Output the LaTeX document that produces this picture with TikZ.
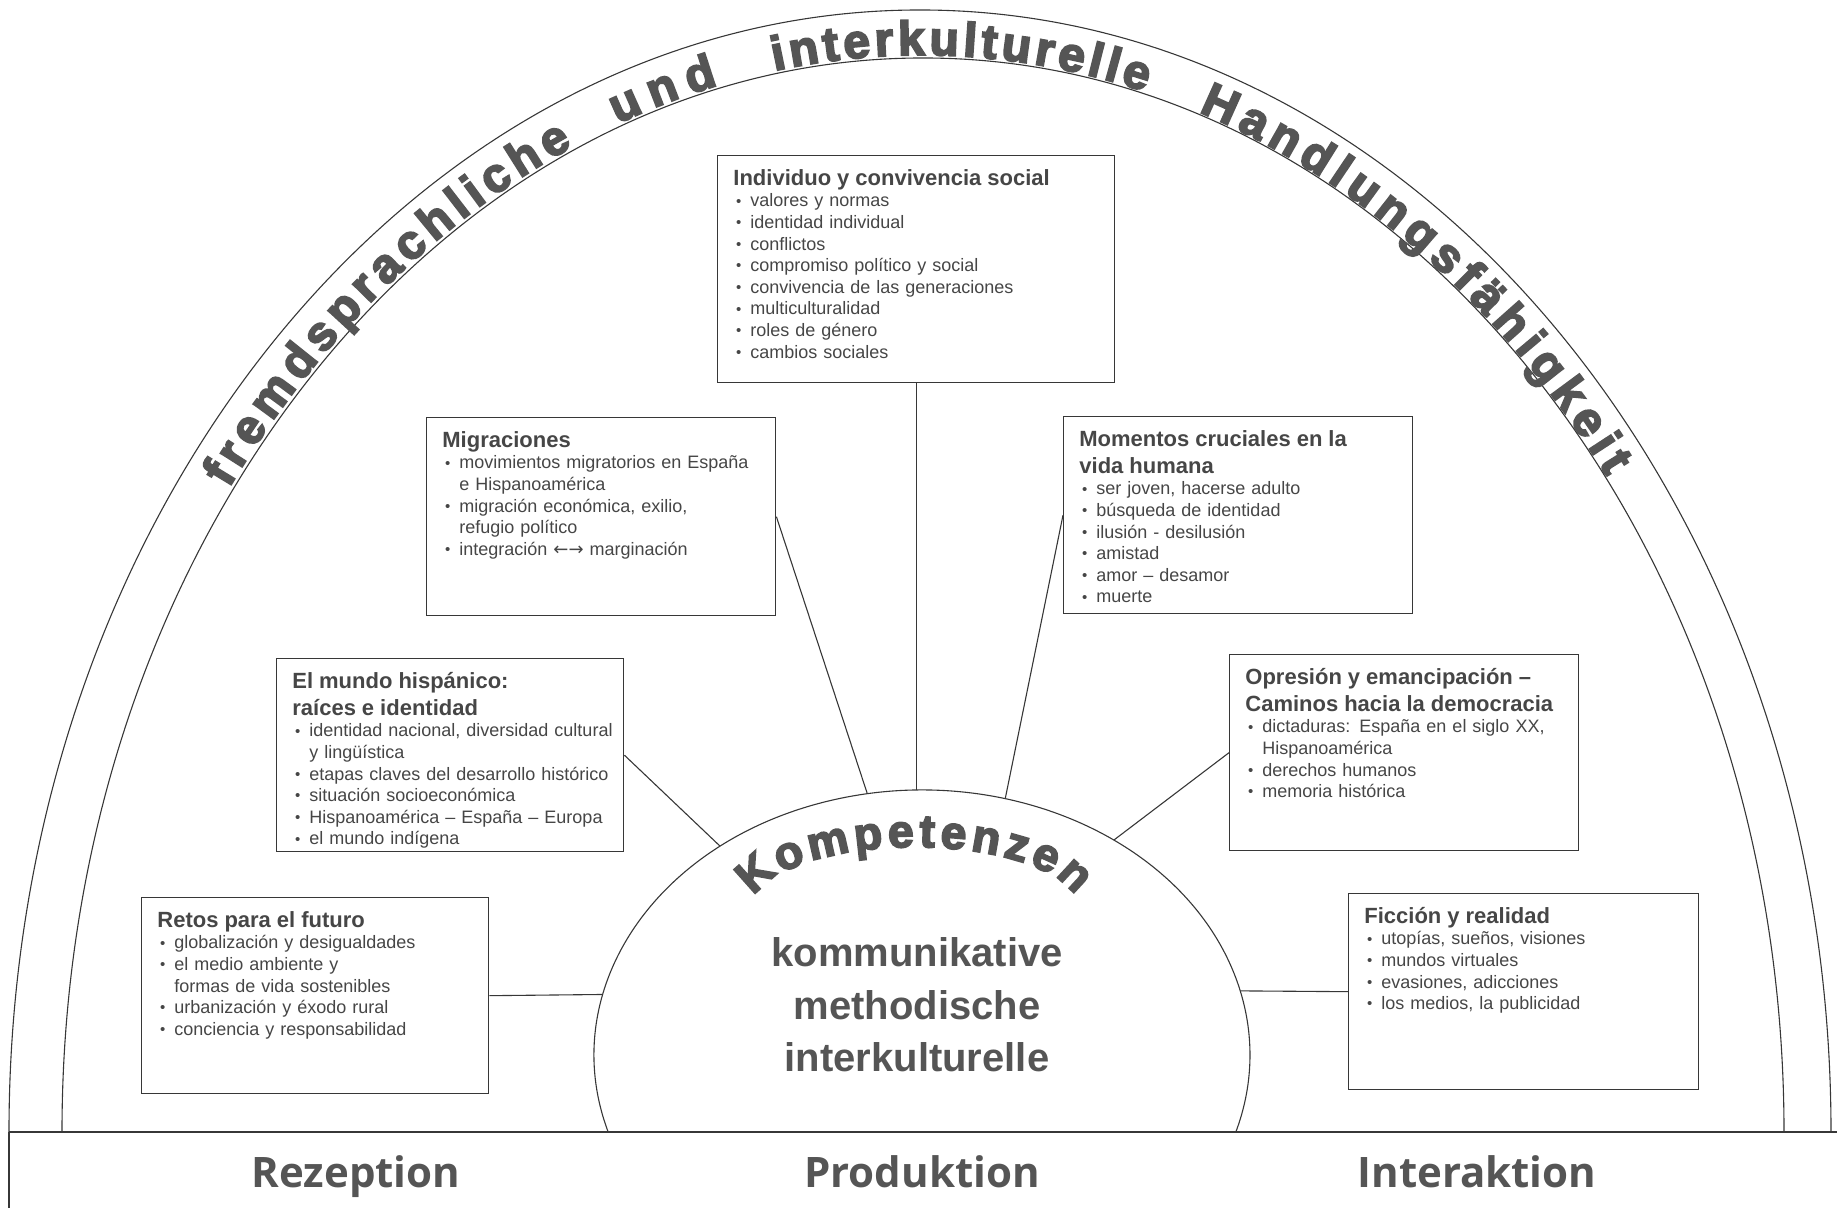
\documentclass[tikz,border=0pt]{standalone}
\usepackage{fontspec}
\setmainfont{Liberation Sans}
\newfontfamily\opensans{Open Sans}
\newfontfamily\dejavu{DejaVu Sans}
\newfontfamily\heavyfont{Liberation Sans Bold}[FakeBold=4]
\usetikzlibrary{decorations.text}
\definecolor{ink}{RGB}{55,55,55}
\definecolor{txt}{RGB}{70,70,70}
\definecolor{big}{RGB}{85,85,85}
\newcommand\bl{\par\hangindent=8.5pt\hangafter=1\noindent\makebox[8.5pt][l]{\hspace{1.4pt}\raisebox{0.4pt}{\fontsize{7.5}{7.5}\selectfont •}}}
\newcommand\ttl[1]{{\fontsize{11}{13.5}\selectfont\bfseries\rule{0pt}{9pt}#1\par}}
\newcommand\bandtxt{\color{big}\heavyfont\fontsize{24}{24}\selectfont}
\newcommand\kompfont{\color{big}\heavyfont\fontsize{23}{23}\selectfont}
\tikzset{
  frame/.style={draw=ink, line width=0.55pt},
  conn/.style={draw=ink, line width=0.55pt},
  topic/.style={draw=ink, line width=0.7pt, anchor=north west, inner sep=0pt, fill=white},
  content/.style={anchor=north west, inner sep=0pt, text width=#1, align=left,
    font=\fontsize{9}{10.8}\selectfont, text=txt},
  kline/.style={anchor=base, inner sep=0pt, text=big, font=\fontsize{20}{20}\selectfont\bfseries},
  skill/.style={anchor=base, inner sep=0pt, text=big, font=\opensans\fontsize{21}{21}\selectfont\bfseries}
}
\begin{document}
\begin{tikzpicture}[x=0.5pt,y=0.5pt]
\useasboundingbox (0,0) rectangle (1837,1208);
% outer frame
\draw[frame] (9,76) arc[start angle=180,end angle=0,x radius=455.5pt,y radius=561pt];
\draw[frame] (62,76) arc[start angle=180,end angle=0,x radius=430.5pt,y radius=537pt];
\draw[ink, line width=0.9pt] (9,76) -- (1837,76);
\draw[frame] (9,76) -- (9,0);
% central half ellipse
\draw[frame] (922,153) ++(196.9:164pt and 132.5pt)
  arc[start angle=196.9,end angle=-16.9,x radius=164pt,y radius=132.5pt];
\path (922,153) ++(90.5:164pt and 132.5pt) coordinate (pInd);
\path (922,153) ++(99.6:164pt and 132.5pt) coordinate (pMig);
\path (922,153) ++(75.3:164pt and 132.5pt) coordinate (pMom);
\path (922,153) ++(128:164pt and 132.5pt) coordinate (pMun);
\path (922,153) ++(54.2:164pt and 132.5pt) coordinate (pOpr);
\path (922,153) ++(166.8:164pt and 132.5pt) coordinate (pRet);
\path (922,153) ++(14.0:164pt and 132.5pt) coordinate (pFic);

% band text
\path[decorate,decoration={text along path,text={|\bandtxt|fremdsprachliche},text align={fit to path}}]
  (921.5,76) ++(143.3:432pt and 538.5pt) arc[start angle=143.3,end angle=113.8,x radius=432pt,y radius=538.5pt];
\path[decorate,decoration={text along path,text={|\bandtxt|und},text align={fit to path}}]
  (921.5,76) ++(110.6:432pt and 538.5pt) arc[start angle=110.6,end angle=103.6,x radius=432pt,y radius=538.5pt];
\path[decorate,decoration={text along path,text={|\bandtxt|interkulturelle},text align={fit to path}}]
  (921.5,76) ++(99.8:432pt and 538.5pt) arc[start angle=99.8,end angle=75.0,x radius=432pt,y radius=538.5pt];
\path[decorate,decoration={text along path,text={|\bandtxt|Handlungsfähigkeit},text align={fit to path}}]
  (921.5,76) ++(71.3:432pt and 538.5pt) arc[start angle=71.3,end angle=37.5,x radius=432pt,y radius=538.5pt];

% Kompetenzen
\path[decorate,decoration={text along path,text={|\kompfont|Kompetenzen},text align={fit to path},raise=-4.5pt}]
  (915,304) ++(168:85pt and 33pt) arc[start angle=168,end angle=13,x radius=85pt,y radius=33pt];
\node[kline] (k1) at (917,241) {kommunikative};
\node[kline] (k2) at (917,188) {methodische};
\node[kline] (k3) at (917,136) {interkulturelle};

% bottom labels
\node[skill] (rez) at (356,20) {Rezeption};
\node[skill] (pro) at (922,20) {Produktion};
\node[skill] (int) at (1477,20) {Interaktion};

% topic boxes
\node[topic, minimum width=198.5pt, minimum height=113.5pt] (ind) at (717,1053) {};
\node[content=185pt] (indT) at ([xshift=8pt,yshift=-6pt]ind.north west) {%
\ttl{Individuo y convivencia social}%
\bl valores y normas
\bl identidad individual
\bl conflictos
\bl compromiso político y social
\bl convivencia de las generaciones
\bl multiculturalidad
\bl roles de género
\bl cambios sociales\par};

\node[topic, minimum width=174.5pt, minimum height=99pt] (mig) at (426,791) {};
\node[content=162pt] (migT) at ([xshift=8pt,yshift=-6pt]mig.north west) {%
\ttl{Migraciones}%
\bl movimientos migratorios en España\newline e Hispanoamérica
\bl migración económica, exilio,\newline refugio político
\bl integración {\dejavu\fontsize{9}{10.8}\selectfont ←→} marginación\par};

\node[topic, minimum width=174.5pt, minimum height=98.5pt] (mom) at (1063,792) {};
\node[content=162pt] (momT) at ([xshift=8pt,yshift=-6pt]mom.north west) {%
\ttl{Momentos cruciales en la\\vida humana}%
\bl ser joven, hacerse adulto
\bl búsqueda de identidad
\bl ilusión - desilusión
\bl amistad
\bl amor – desamor
\bl muerte\par};

\node[topic, minimum width=173.5pt, minimum height=96.5pt] (mun) at (276,550) {};
\node[content=162pt] (munT) at ([xshift=8pt,yshift=-6pt]mun.north west) {%
\ttl{El mundo hispánico:\\raíces e identidad}%
\bl identidad nacional, diversidad cultural\newline y lingüística
\bl etapas claves del desarrollo histórico
\bl situación socioeconómica
\bl Hispanoamérica – España – Europa
\bl el mundo indígena\par};

\node[topic, minimum width=174.5pt, minimum height=98pt] (opr) at (1229,554) {};
\node[content=164pt] (oprT) at ([xshift=8pt,yshift=-6pt]opr.north west) {%
\ttl{Opresión y emancipación –\\Caminos hacia la democracia}%
\bl dictaduras: España en el siglo XX,\newline Hispanoamérica
\bl derechos humanos
\bl memoria histórica\par};

\node[topic, minimum width=173.5pt, minimum height=98pt] (ret) at (141,311) {};
\node[content=162pt] (retT) at ([xshift=8pt,yshift=-6pt]ret.north west) {%
\ttl{Retos para el futuro}%
\bl globalización y desigualdades
\bl el medio ambiente y\newline formas de vida sostenibles
\bl urbanización y éxodo rural
\bl conciencia y responsabilidad\par};

\node[topic, minimum width=175pt, minimum height=98pt] (fic) at (1348,315) {};
\node[content=162pt] (ficT) at ([xshift=8pt,yshift=-6pt]fic.north west) {%
\ttl{Ficción y realidad}%
\bl utopías, sueños, visiones
\bl mundos virtuales
\bl evasiones, adicciones
\bl los medios, la publicidad\par};

% connectors
\draw[conn] (ind.south) -- (ind.south |- pInd);
\draw[conn] (mig.east) -- (pMig);
\draw[conn] (mom.west) -- (pMom);
\draw[conn] (mun.east) -- (pMun);
\draw[conn] (opr.west) -- (pOpr);
\draw[conn] (ret.east) -- (pRet);
\draw[conn] (fic.west) -- (pFic);
\end{tikzpicture}
\end{document}
